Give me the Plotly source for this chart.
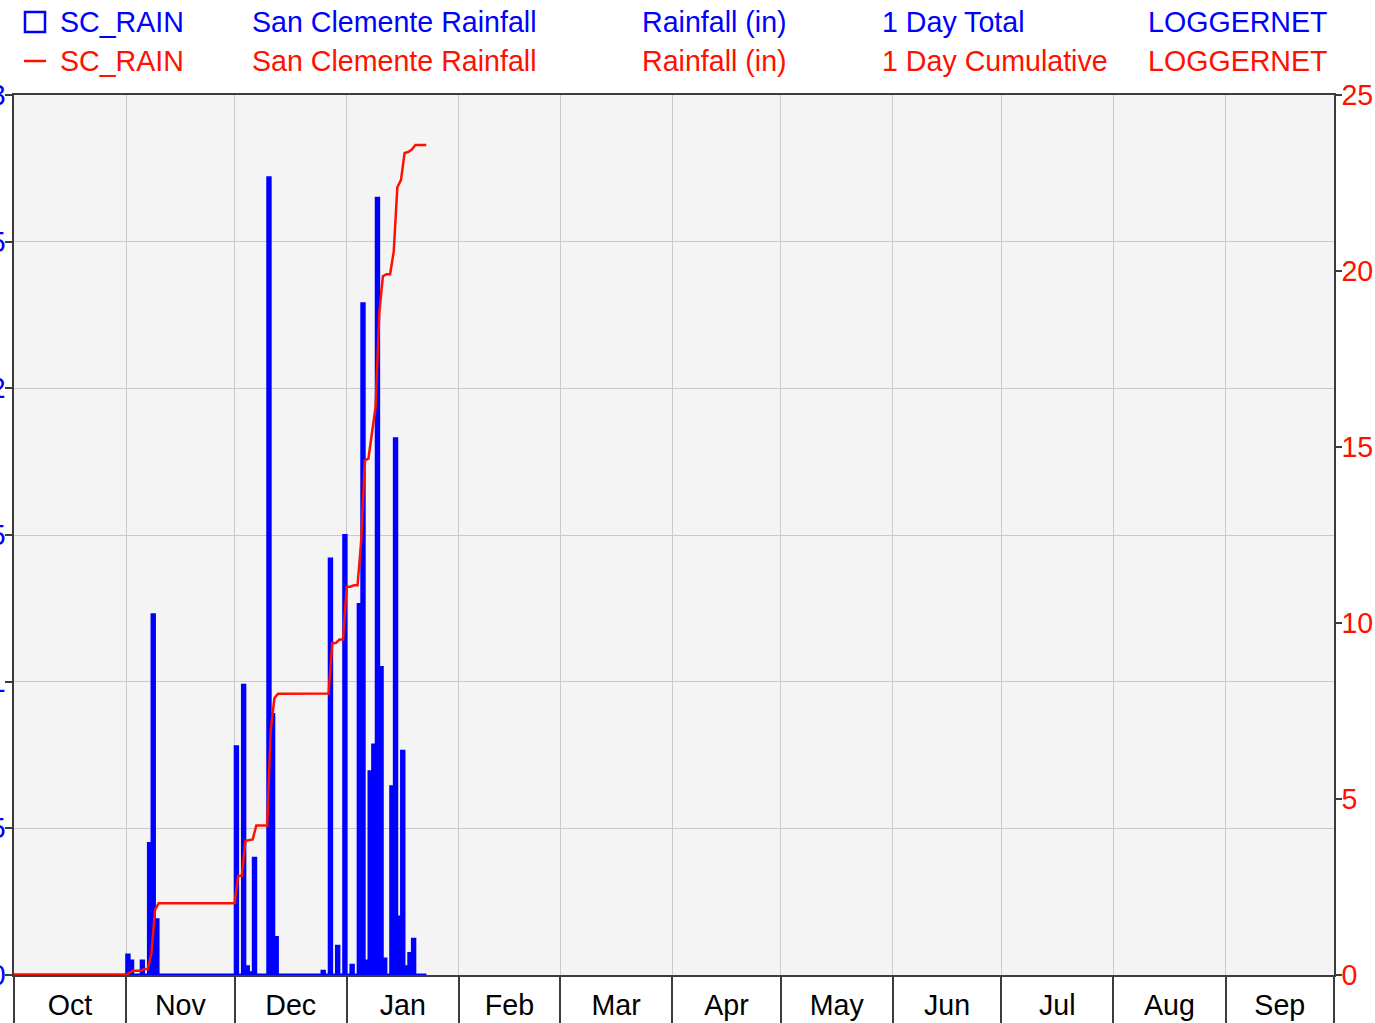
import pandas as pd
import plotly.graph_objects as go

# ---------------- data ----------------
start_date = "2022-10-01"

# 1 Day Total rainfall (in), one value per day
oct_rain = [0, 0, 0, 0, 0, 0, 0, 0, 0, 0, 0, 0, 0, 0, 0, 0, 0, 0, 0, 0,
            0, 0, 0, 0, 0, 0, 0, 0, 0, 0, 0]
nov_rain = [0.07, 0.05, 0, 0, 0.05, 0, 0.45, 1.23, 0.19, 0,
            0, 0, 0, 0, 0, 0, 0, 0, 0, 0,
            0, 0, 0, 0, 0, 0, 0, 0, 0, 0]
dec_rain = [0.78, 0, 0.99, 0.03, 0.01, 0.40, 0, 0, 0, 2.72,
            0.89, 0.13, 0, 0, 0, 0, 0, 0, 0, 0,
            0, 0, 0, 0, 0.015, 0, 1.42, 0, 0.10, 0, 1.50]
jan_rain = [0, 0.035, 0, 1.265, 2.29, 0.05, 0.695, 0.786, 2.65, 1.05,
            0.057, 0, 0.644, 1.83, 0.20, 0.765, 0.03, 0.075, 0.124, 0,
            0, 0]

# 1 Day Cumulative rainfall (in), value at the start of each day
oct_cum = [0, 0, 0, 0, 0, 0, 0, 0, 0, 0, 0, 0, 0, 0, 0, 0, 0, 0, 0, 0,
           0, 0, 0, 0, 0, 0, 0, 0, 0, 0, 0]
nov_cum = [0, 0.07, 0.12, 0.12, 0.12, 0.17, 0.17, 0.62, 1.85, 2.04,
           2.04, 2.04, 2.04, 2.04, 2.04, 2.04, 2.04, 2.04, 2.04, 2.04,
           2.04, 2.04, 2.04, 2.04, 2.04, 2.04, 2.04, 2.04, 2.04, 2.04]
dec_cum = [2.04, 2.82, 2.82, 3.81, 3.84, 3.85, 4.25, 4.25, 4.25, 4.25,
           6.97, 7.86, 7.99, 7.99, 7.99, 7.99, 7.99, 7.99, 7.99, 7.99,
           7.99, 7.99, 7.99, 7.99, 7.99, 8.00, 8.00, 9.43, 9.43, 9.53, 9.53]
jan_cum = [11.03, 11.03, 11.07, 11.07, 12.33, 14.62, 14.67, 15.37, 16.15, 18.80,
           19.85, 19.91, 19.91, 20.55, 22.38, 22.58, 23.35, 23.38, 23.45, 23.58,
           23.58, 23.58, 23.58]

axis_start = "2022-10-01"
axis_end = "2023-10-01"
left_ticks = [0, 0.5, 1, 1.5, 2, 2.5, 3]
right_ticks = [0, 5, 10, 15, 20, 25]

legend_rows = [
    ["SC_RAIN", "San Clemente Rainfall", "Rainfall (in)", "1 Day Total", "LOGGERNET"],
    ["SC_RAIN", "San Clemente Rainfall", "Rainfall (in)", "1 Day Cumulative", "LOGGERNET"],
]

# ---------------- build ----------------
rain = oct_rain + nov_rain + dec_rain + jan_rain
cum = oct_cum + nov_cum + dec_cum + jan_cum
rain_dates = pd.date_range(start_date, periods=len(rain), freq="D")
cum_dates = pd.date_range(start_date, periods=len(cum), freq="D")
DAY_MS = 86400000

BLUE = "#0000ff"
RED = "#ff1000"
AXC = "#3c3c3c"
GRID = "#c9c9c9"
FONT = "Liberation Sans"
FS = 28.6

W, H = 1375, 1023
ML, MR, MT, MB = 14, 41, 95, 48
PW, PH = W - ML - MR, H - MT - MB


def px_x(px):
    return (px - ML) / PW


def px_y(py):
    return (H - MB - py) / PH


fig = go.Figure()
fig.add_trace(go.Bar(
    x=rain_dates, y=rain, width=DAY_MS, offset=0,
    marker=dict(color=BLUE, line=dict(color=BLUE, width=1.8)),
    yaxis="y", showlegend=False, hoverinfo="x+y"))
fig.add_trace(go.Scatter(
    x=[rain_dates[0], rain_dates[-1] + pd.Timedelta(days=1)], y=[0, 0],
    mode="lines", line=dict(color=BLUE, width=3), yaxis="y",
    showlegend=False, hoverinfo="skip"))
fig.add_trace(go.Scatter(
    x=cum_dates, y=cum, mode="lines",
    line=dict(color=RED, width=2.5), yaxis="y2", showlegend=False))

annotations = []
col_px = [58, 250, 640, 880, 1146]
row_py = [22, 61]
row_col = [BLUE, RED]
for r, row in enumerate(legend_rows):
    for c, txt in enumerate(row):
        annotations.append(dict(
            xref="paper", yref="paper", x=px_x(col_px[c]), y=px_y(row_py[r]),
            xanchor="left", yanchor="middle", text=txt, showarrow=False,
            font=dict(family=FONT, size=FS, color=row_col[r])))

shapes = [
    dict(type="rect", xref="paper", yref="paper",
         x0=px_x(25), x1=px_x(45), y0=px_y(32), y1=px_y(12),
         line=dict(color=BLUE, width=2.5), fillcolor="rgba(0,0,0,0)"),
    dict(type="line", xref="paper", yref="paper",
         x0=px_x(24), x1=px_x(46), y0=px_y(61), y1=px_y(61),
         line=dict(color=RED, width=2.5)),
]

fig.update_layout(
    template="none",
    width=W, height=H,
    margin=dict(l=ML, r=MR, t=MT, b=MB, pad=0),
    paper_bgcolor="white", plot_bgcolor="#f4f4f4",
    font=dict(family=FONT, size=FS),
    showlegend=False,
    annotations=annotations, shapes=shapes,
    xaxis=dict(
        type="date", range=[axis_start, axis_end], dtick="M1", tick0=axis_start,
        tickformat="%b", ticklabelmode="period", ticks="outside", ticklen=48,
        tickwidth=1.5, tickcolor=AXC, ticklabelstandoff=-44,
        showline=True, linecolor=AXC, linewidth=1.5, mirror=True,
        showgrid=True, gridcolor=GRID, gridwidth=1, zeroline=False,
        tickfont=dict(family=FONT, size=FS, color="black"), automargin=False),
    yaxis=dict(
        range=[0, 3], tickvals=left_ticks, ticks="outside", ticklen=7,
        tickwidth=1.5, tickcolor=AXC, ticklabelstandoff=-6,
        showline=True, linecolor=AXC, linewidth=1.5,
        showgrid=True, gridcolor=GRID, gridwidth=1, zeroline=False,
        tickfont=dict(family=FONT, size=FS, color=BLUE), automargin=False),
    yaxis2=dict(
        range=[0, 25], tickvals=right_ticks, overlaying="y", side="right",
        ticks="outside", ticklen=6, tickwidth=1.5, tickcolor=AXC,
        ticklabelstandoff=-6,
        showline=True, linecolor=AXC, linewidth=1.5, showgrid=False, zeroline=False,
        tickfont=dict(family=FONT, size=FS, color=RED), automargin=False),
)

fig.write_html("out.html", config={"displayModeBar": False},
               post_script="document.body.style.margin='0';")
